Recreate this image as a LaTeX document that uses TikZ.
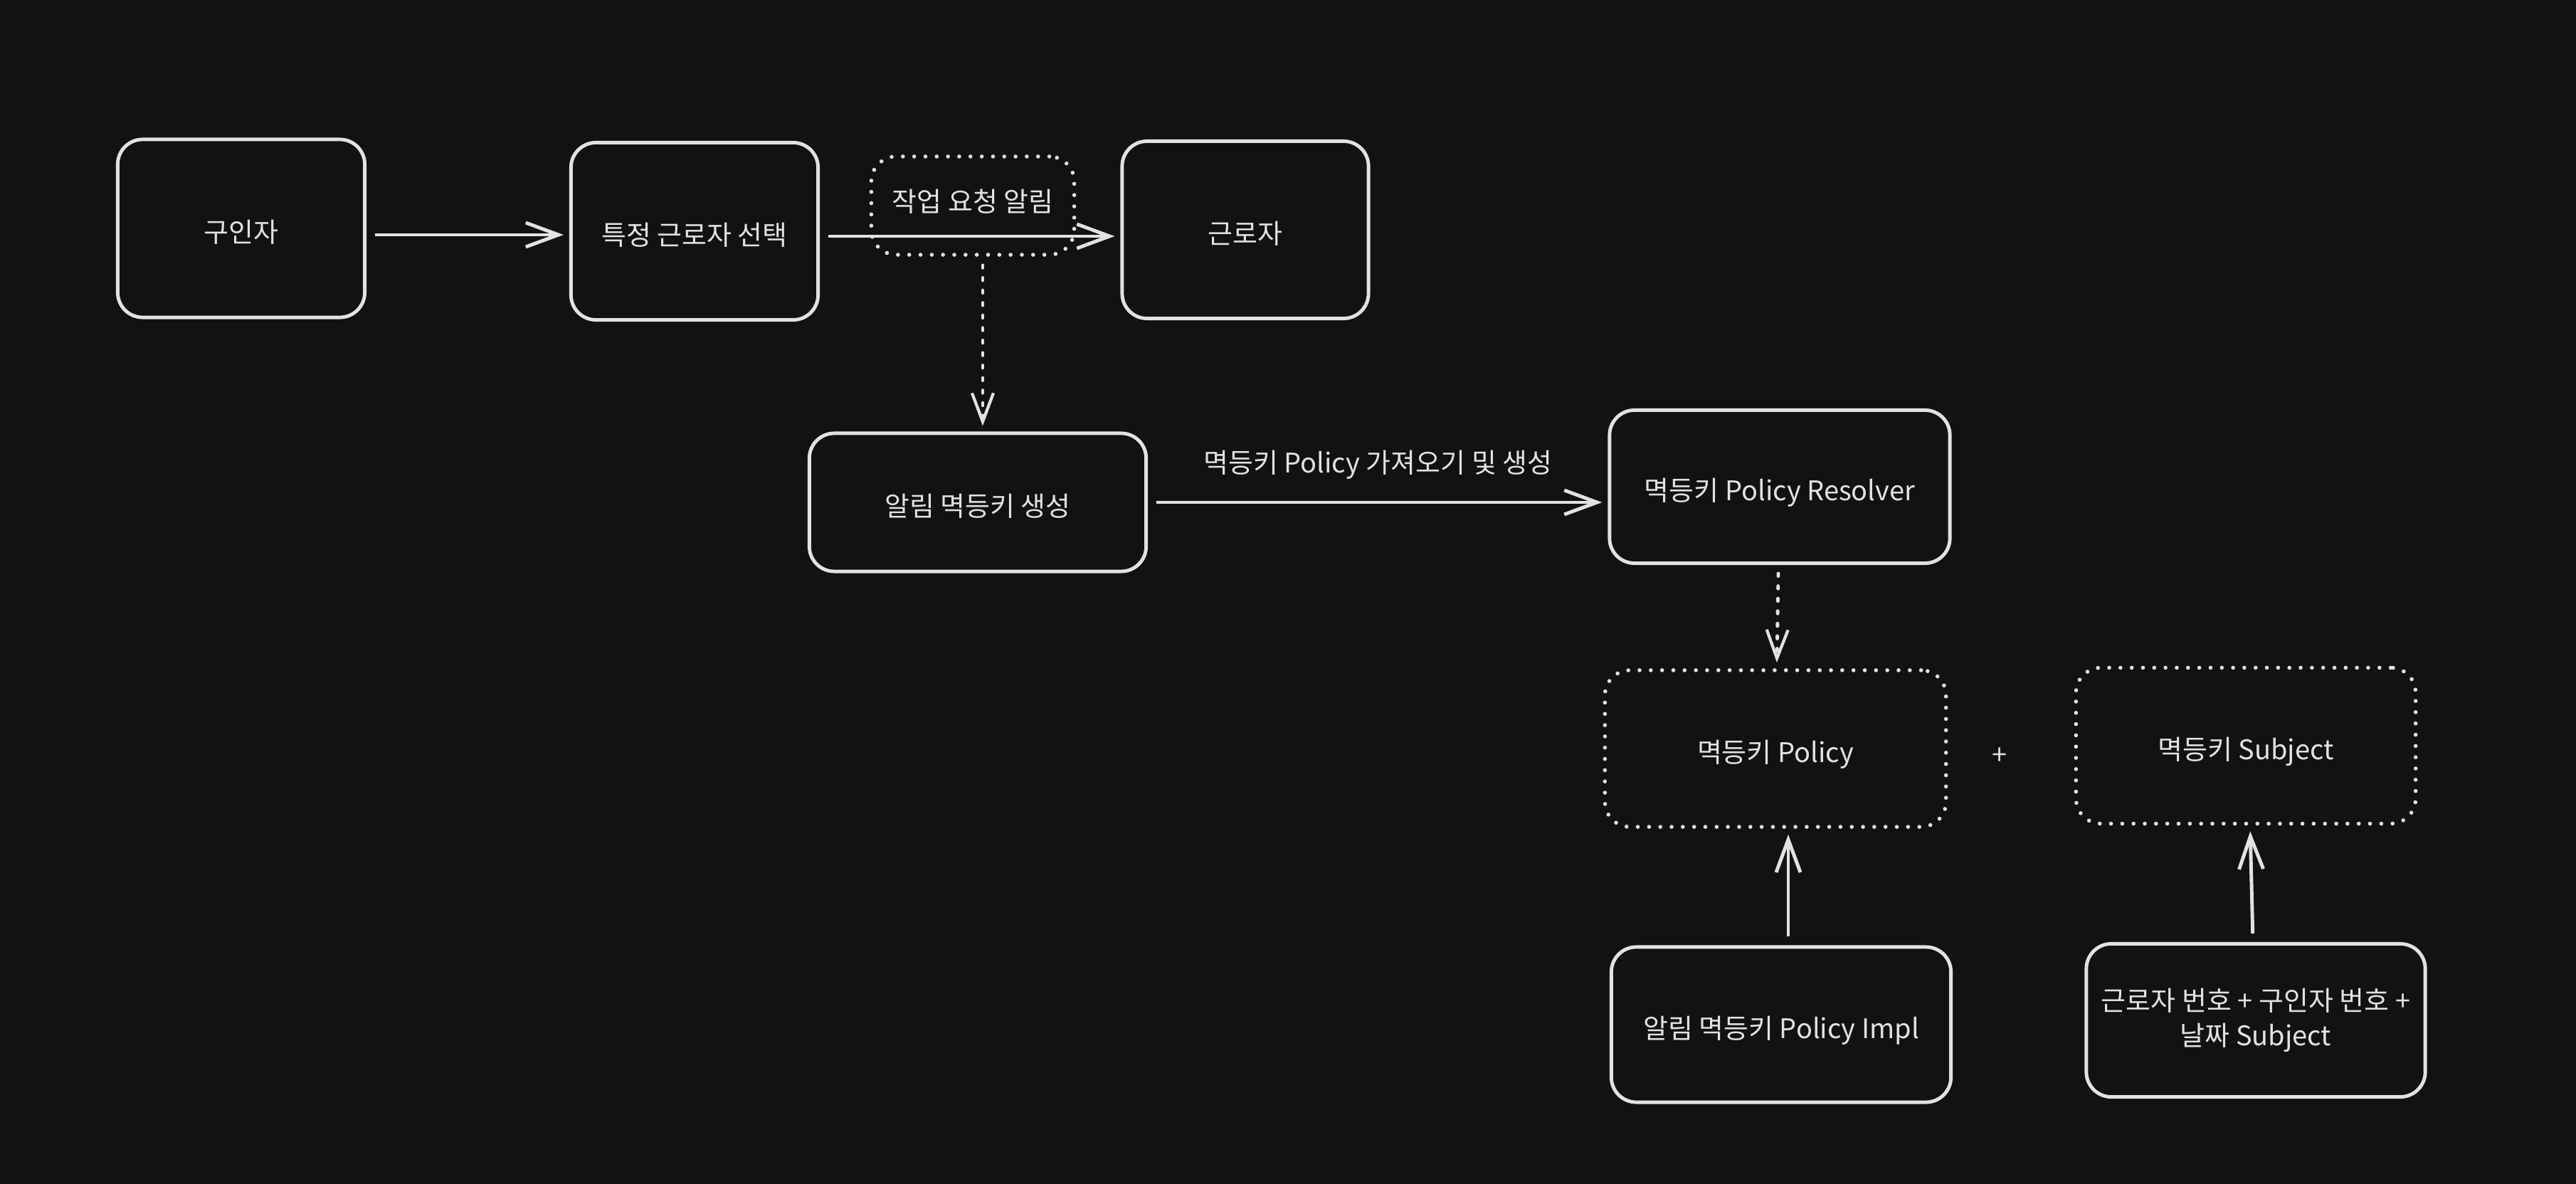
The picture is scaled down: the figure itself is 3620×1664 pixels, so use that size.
\documentclass[tikz,border=0pt]{standalone}
\usepackage{fontspec}
\setmainfont{Noto Sans CJK KR}
\usetikzlibrary{arrows.meta}
\definecolor{bgdark}{HTML}{121212}
\definecolor{inkgray}{HTML}{E2E2E2}
\tikzset{
    word/.style={text=inkgray, font=\fontsize{10.8pt}{14pt}\selectfont, text height=1.12em, text depth=0pt},
    box/.style={word, draw=inkgray, line width=1.4pt, rounded corners=0.35cm, align=center, inner sep=0pt},
    dotbox/.style={box, line cap=round, dash pattern=on 0pt off 4.5pt, line width=1.6pt},
    flow/.style={draw=inkgray, line width=1.4pt, -{Straight Barb[length=0.46cm, width=0.34cm]}, shorten <=0.12cm, shorten >=0.08cm},
    dotflow/.style={flow, line cap=round, dash pattern=on 1pt off 4pt, -{Straight Barb[length=0.4cm, width=0.3cm, line width=1.2pt]}}
}
\begin{document}
\begin{tikzpicture}[x=0.01cm, y=-0.01cm]
            \fill[bgdark] (0,0) rectangle (3620,1664);
            \useasboundingbox (0,0) rectangle (3620,1664);

            \node[box, minimum width=3.47cm, minimum height=2.5cm] (Gu) at (339,321) {구인자};
            \node[box, minimum width=3.47cm, minimum height=2.49cm] (Sel) at (976,325) {특정 근로자 선택};
            \node[box, minimum width=3.46cm, minimum height=2.49cm] (Wk) at (1750,323) {근로자};
            \node[dotbox, minimum width=2.85cm, minimum height=1.38cm, text depth=0.22cm] (Noti) at (1367,289) {작업 요청 알림};
            \node[box, minimum width=4.73cm, minimum height=1.94cm] (Gen) at (1374,706) {알림 멱등키 생성};
            \node[box, minimum width=4.78cm, minimum height=2.15cm] (Res) at (2501,684) {멱등키 Policy Resolver};
            \node[dotbox, minimum width=4.79cm, minimum height=2.2cm] (Pol) at (2495,1052) {멱등키 Policy};
            \node[word] (Plus) at (2810,1055) {+};
            \node[dotbox, minimum width=4.77cm, minimum height=2.19cm] (Sub) at (3156,1048) {멱등키 Subject};
            \node[box, minimum width=4.77cm, minimum height=2.18cm] (Impl) at (2503,1440) {알림 멱등키 Policy Impl};
            \node[box, text height={}, text depth={}, minimum width=4.76cm, minimum height=2.15cm] (SubImpl) at (3170,1434) {근로자 번호 + 구인자 번호 +\\ 날짜 Subject};

            \draw[flow] (Gu.east |- 0,330) to (Sel.west |- 0,330); \draw[flow] (Sel.east |- 0,332) to (Wk.west |- 0,332);
            \draw[dotflow] (Noti.south -| 1381,0) to (Gen.north -| 1381,0);
            \draw[flow] (Gen.east) to node[word, above=0.27cm] {멱등키 Policy 가져오기 및 생성} (Gen.east -| Res.west);
            \draw[dotflow] (Res) to (Pol);
            \draw[flow] (Impl.north -| 2513,0) to (Pol.south -| 2513,0);
            \draw[flow] (SubImpl.north -| 3166,0) to (Sub.south -| 3162,0);
        \end{tikzpicture}
\end{document}
